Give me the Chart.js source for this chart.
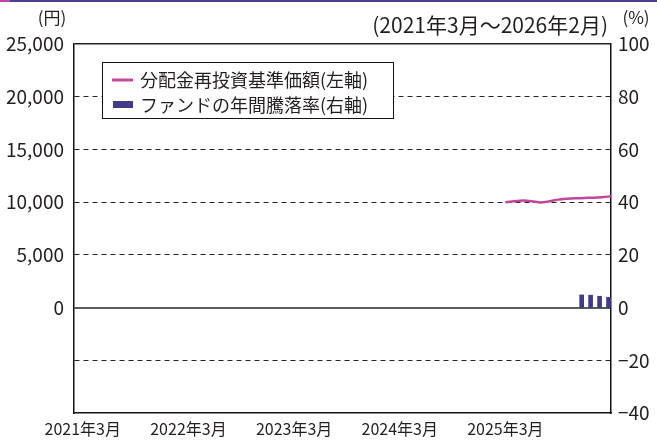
<!DOCTYPE html>
<html><head><meta charset="utf-8">
<script src="https://cdn.jsdelivr.net/npm/chart.js@4.4.1/dist/chart.umd.min.js"></script>
<style>
html,body{margin:0;padding:0;background:#fff;}
#wrap{position:relative;width:657px;height:441px;}
#stripe{position:absolute;left:0;top:0;width:657px;height:2px;background:#4a3d8f;}
#stripe span{position:absolute;left:0;top:0;width:10px;height:2px;background:#c4449c;}
</style></head>
<body>
<div id="wrap"><div id="stripe"><span></span></div><canvas id="c" width="657" height="441"></canvas></div>
<script>
// ---- data ----
const months = [];
for (let y = 2021; y <= 2026; y++) {
  for (let m = 1; m <= 12; m++) {
    if ((y === 2021 && m < 3) || (y === 2026 && m > 2)) continue;
    months.push(y + '年' + m + '月');
  }
}
const tickLabels = ['2021年3月','2022年3月','2023年3月','2024年3月','2025年3月'];
const navStartMonth = '2025年2月';
const navValues = [10000, 10080, 10150, 10090, 9970, 10080, 10240, 10320, 10370, 10400, 10420, 10470, 10550];
const returnMonths = ['2025年11月','2025年12月','2026年1月','2026年2月'];
const returnValues = [4.8, 4.7, 4.3, 3.9];
const leftTicks = [0, 5000, 10000, 15000, 20000, 25000];
const rightTicks = [-40, -20, 0, 20, 40, 60, 80, 100];
const seriesNames = ['分配金再投資基準価額(左軸)', 'ファンドの年間騰落率(右軸)'];
const periodText = '(2021年3月～2026年2月)';

// month-end values: month i is plotted at the boundary i+1 (tick k*12 = start of each March)
const navStart = months.indexOf(navStartMonth);
const navData = navValues.map((v, k) => ({ x: navStart + k + 1, y: v }));
const retData = months.map(m => { const k = returnMonths.indexOf(m); return k >= 0 ? returnValues[k] : null; });

const LINE = '#c4449c', BAR = '#3f3a8a', TXT = '#231f20';
const FONT = '"Noto Sans CJK JP", "Noto Sans", sans-serif';

const gridColor = ctx => {
  const v = ctx.tick ? ctx.tick.value : null;
  if (v === 0) return '#5a5a5a';
  if (v === -10000) return 'rgba(0,0,0,0)';
  return '#222';
};

const legendPlugin = {
  id: 'boxLegend',
  afterDatasetsDraw(chart) {
    const c = chart.ctx;
    c.save();
    c.fillStyle = '#fff';
    c.fillRect(102, 62, 291, 56);
    c.strokeStyle = '#111'; c.lineWidth = 1;
    c.strokeRect(102.5, 62.5, 291, 56);
    c.font = '18px ' + FONT; c.fillStyle = TXT; c.textBaseline = 'middle';
    c.strokeStyle = LINE; c.lineWidth = 3;
    c.beginPath(); c.moveTo(112, 80); c.lineTo(133, 80); c.stroke();
    c.fillText(chart.data.datasets[0].label, 140, 80);
    c.fillStyle = BAR; c.fillRect(113, 101, 20, 7);
    c.fillStyle = TXT;
    c.fillText(chart.data.datasets[1].label, 140, 105);
    c.restore();
  }
};
const titlePlugin = {
  id: 'titles',
  afterDraw(chart) {
    const c = chart.ctx;
    c.save(); c.fillStyle = TXT; c.textBaseline = 'middle';
    c.font = '17px ' + FONT;
    c.textAlign = 'center'; c.fillText('(円)', 52, 18);
    c.fillText('(%)', 636, 18);
    c.font = '21px ' + FONT;
    c.textAlign = 'right'; c.fillText(periodText, 608, 25);
    c.restore();
  }
};

new Chart(document.getElementById('c'), {
  data: {
    labels: months,
    datasets: [
      { type: 'line', label: seriesNames[0], data: navData, yAxisID: 'y', xAxisID: 'x',
        borderColor: LINE, borderWidth: 2.5, pointRadius: 0, tension: 0.3, order: 1 },
      { type: 'bar', label: seriesNames[1], data: retData, yAxisID: 'y1', xAxisID: 'xb',
        backgroundColor: BAR, barThickness: 4, order: 2 }
    ]
  },
  options: {
    responsive: false, animation: false,
    layout: { padding: { top: 44, right: 0, left: 0, bottom: 0 } },
    plugins: { legend: { display: false }, tooltip: { enabled: false } },
    scales: {
      x: { type: 'linear', min: -1, max: months.length, position: 'bottom',
        afterBuildTicks: s => { s.ticks = tickLabels.map((l, k) => ({ value: k * 12 })); },
        grid: { display: false, drawTicks: false },
        border: { display: true, color: '#111', width: 1.5 },
        ticks: { autoSkip: false, maxRotation: 0, padding: 6, color: TXT, font: { family: FONT, size: 16 },
          callback: v => tickLabels[Math.round(v / 12)] || '' },
        afterFit: s => { s.height = 28; } },
      xb: { type: 'category', offset: true, display: false },
      y: { position: 'left', min: -10000, max: 25000,
        afterBuildTicks: s => { s.ticks = [-10000, -5000].concat(leftTicks).map(v => ({ value: v })); },
        grid: { drawTicks: false, color: gridColor,
          lineWidth: ctx => (ctx.tick && ctx.tick.value === 0) ? 2 : (ctx.tick && ctx.tick.value === 25000 ? 1.5 : 1) },
        border: { display: true, color: '#111', width: 1.5,
          dash: ctx => (ctx.tick && (ctx.tick.value === 0 || ctx.tick.value === 25000)) ? [] : [5, 4] },
        ticks: { padding: 10, color: TXT, font: { family: FONT, size: 19 },
          callback: v => leftTicks.includes(v) ? v.toLocaleString('en-US') : '' },
        afterFit: s => { s.width = 74; } },
      y1: { position: 'right', min: -40, max: 100,
        afterBuildTicks: s => { s.ticks = rightTicks.map(v => ({ value: v })); },
        grid: { display: false, drawTicks: false },
        border: { display: true, color: '#111', width: 1.5 },
        ticks: { padding: 7, color: TXT, font: { family: FONT, size: 19 },
          callback: v => v < 0 ? '−' + Math.abs(v) : String(v) },
        afterFit: s => { s.width = 46; } }
    }
  },
  plugins: [legendPlugin, titlePlugin]
});
</script>
</body></html>
